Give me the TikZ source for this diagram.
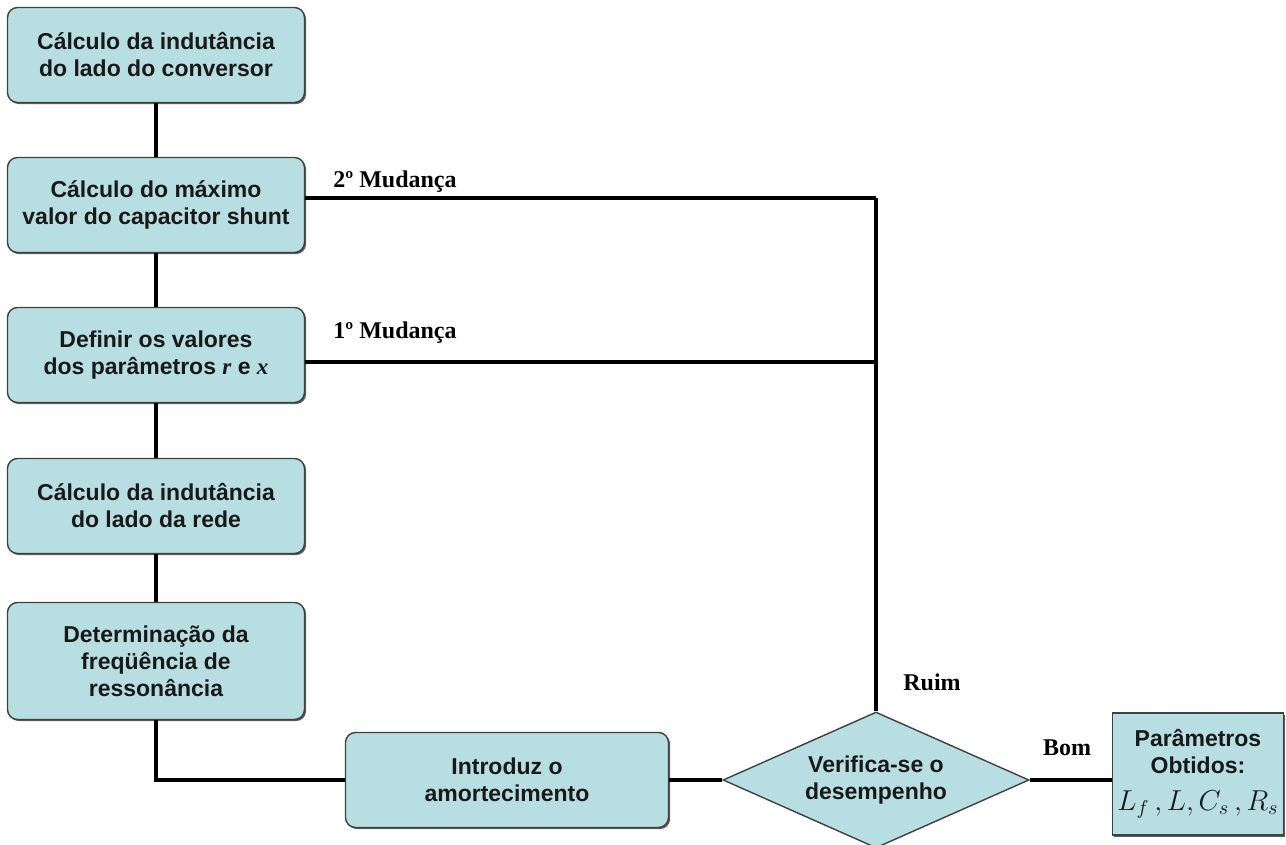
\documentclass[tikz,border=0pt]{standalone}
\usepackage{fontspec}
\setmainfont{Liberation Sans}
\newfontfamily\lblfont{Liberation Serif}
\usetikzlibrary{shapes.geometric,shadows}
\definecolor{boxfill}{RGB}{183,222,225}

\begin{document}
\begin{tikzpicture}[x=0.5pt,y=-0.5pt,
  box/.style={draw=black!75,line width=0.7pt,fill=boxfill,rounded corners=5pt,
    minimum width=148.5pt,minimum height=47.5pt,align=center,text=black!90,
    font=\fontsize{11.5}{13.5}\selectfont\bfseries,
    drop shadow={shadow xshift=0.8pt,shadow yshift=-0.8pt,opacity=0.9,fill=black!70}},
  test/.style={diamond,aspect=2.3,draw=black!75,line width=0.7pt,fill=boxfill,
    minimum width=153pt,minimum height=68pt,inner sep=0pt,align=center,text=black!90,
    font=\fontsize{11.5}{13.5}\selectfont\bfseries},
  link/.style={line width=2pt},
  lbl/.style={font=\lblfont\fontsize{12}{14}\selectfont\bfseries}]

\useasboundingbox (0,0) rectangle (1286,845);

\node[box] (b1) at (156,55) {Cálculo da indutância\\do lado do conversor};
\node[box] (b2) at (156,205) {Cálculo do máximo\\valor do capacitor shunt};
\node[box] (b3) at (156,355) {Definir os valores\\dos parâmetros {\lblfont\itshape r} e {\lblfont\itshape x}};
\node[box] (b4) at (156,506) {Cálculo da indutância\\do lado da rede};
\node[box,minimum height=58.5pt] (b5) at (156,661) {Determinação da\\freqüência de\\ressonância};
\node[box,minimum width=161.5pt] (b6) at (507,780) {Introduz o\\amortecimento};
\node[test] (chk) at (876,780) {Verifica-se o\\desempenho};
\node[box,sharp corners,minimum width=85.5pt,minimum height=61pt,inner sep=1pt] (res) at (1198,774)
  {Parâmetros\\Obtidos:\\[5pt]{\fontsize{14}{16}\selectfont$L_f\,,L,C_s\,,R_s$}};

\coordinate (t2) at (876,198);
\coordinate (t1) at (876,362);

\draw[link] (b1) -- (b2);
\draw[link] (b2) -- (b3);
\draw[link] (b3) -- (b4);
\draw[link] (b4) -- (b5);
\draw[link] (b5.south) |- (b6.west);
\draw[link] (b6) -- (chk);
\draw[link] (chk.east) -- (chk.east -| res.west);
\draw[link] (chk.north) -- (t2);
\draw[link] (b2.east |- t2) -- (t2);
\draw[link] (b3.east |- t1) -- (t1);

\node[lbl] (m2) at (395,182) {2º Mudança};
\node[lbl] (m1) at (395,333) {1º Mudança};
\node[lbl] (bad) at (932,682) {Ruim};
\node[lbl] (good) at (1067,748) {Bom};
\end{tikzpicture}
\end{document}
